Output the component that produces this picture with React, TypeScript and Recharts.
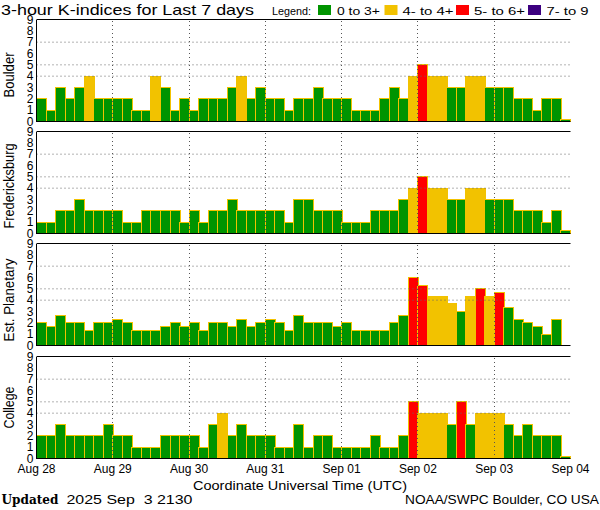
import { BarChart, Bar, Cell, XAxis, YAxis, ReferenceLine } from "recharts";

// 3-hour slots, 8 per day, Aug 28 00 UT .. Sep 03 21 UT
const days = ["Aug 28", "Aug 29", "Aug 30", "Aug 31", "Sep 01", "Sep 02", "Sep 03", "Sep 04"];
const SLOTS_PER_DAY = 8;

const boulder = [
  2, 1, 3, 2, 3, 4, 2, 2,
  2, 2, 1, 1, 4, 3, 1, 2,
  1, 2, 2, 2, 3, 4, 2, 3,
  2, 2, 1, 2, 2, 3, 2, 2,
  2, 1, 1, 1, 2, 3, 2, 4,
  5, 4, 4, 3, 3, 4, 4, 3,
  3, 3, 2, 2, 1, 2, 2, 0.15,
];

const fredericksburg = [
  1, 1, 2, 2, 3, 2, 2, 2,
  2, 1, 1, 2, 2, 2, 2, 1,
  2, 1, 2, 2, 3, 2, 2, 2,
  2, 2, 1, 3, 3, 2, 2, 2,
  1, 1, 1, 2, 2, 2, 3, 4,
  5, 4, 4, 3, 3, 4, 4, 3,
  3, 3, 2, 2, 2, 1, 2, 0.25,
];

const planetary = [
  2, 1.67, 2.67, 2, 2, 1.33, 2, 2,
  2.33, 2, 1.33, 1.33, 1.33, 1.67, 2, 1.67,
  2, 1.33, 2, 2, 1.67, 2.33, 1.67, 2,
  2.33, 2, 1.33, 2.67, 2, 2, 2, 1.67,
  2, 1.33, 1.33, 1.33, 1.33, 2, 2.67, 6,
  5.33, 4.33, 4.33, 3.67, 3, 4.33, 5, 4.33,
  4.67, 3.33, 2.33, 2, 1.67, 1, 2.33, 0,
];

const college = [
  2, 2, 3, 2, 2, 2, 2, 3,
  2, 2, 1, 1, 1, 2, 2, 2,
  2, 1, 3, 4, 2, 3, 2, 2,
  2, 1, 1, 3, 1, 2, 2, 1,
  1, 1, 1, 2, 1, 1, 2, 5,
  4, 4, 4, 3, 5, 3, 4, 4,
  4, 3, 2, 3, 2, 2, 2, 0.2,
];

const kTicks = [0, 1, 2, 3, 4, 5, 6, 7, 8, 9];
const gridLevels = [4, 5, 7];
const legendLabels = ["0 to 3+", "4- to 4+", "5- to 6+", "7- to 9"];

const GREEN = "#009400";
const YELLOW = "#f2c200";
const RED = "#ff0000";
const PURPLE = "#3c0080";
const GRID = "#666666";
const FONT = '"Liberation Sans", Arial, sans-serif';

const kColor = (v: number) =>
  v >= 6.67 ? PURPLE : v >= 4.67 ? RED : v >= 3.67 ? YELLOW : GREEN;

const panels = [
  { name: "Boulder", values: boulder, top: 19, labelY: 75, labelLen: 45 },
  { name: "Fredericksburg", values: fredericksburg, top: 131, labelY: 186, labelLen: 85 },
  { name: "Est. Planetary", values: planetary, top: 243, labelY: 300, labelLen: 83 },
  { name: "College", values: college, top: 356, labelY: 407.5, labelLen: 42 },
];

const PAD = 6;

// day label at the start of its first slot; the final label at the end of the last slot
function DayTick(props: any) {
  const { x, y, payload, lastSlot } = props;
  const slot = payload.value as number;
  const isEnd = slot === lastSlot;
  const label = isEnd ? days[days.length - 1] : days[slot / SLOTS_PER_DAY];
  const tx = isEnd ? x + payload.offset : x - payload.offset;
  return (
    <text x={tx} y={y} dy="0.71em" textAnchor="middle" fontSize={12} fill="#000" fontFamily={FONT}>
      {label}
    </text>
  );
}

function Panel({ values, top, showDays }: { values: number[]; top: number; showDays: boolean }) {
  const data = values.map((k, slot) => ({ slot, k }));
  const lastSlot = data.length - 1;
  const dayStarts = data.filter((d) => d.slot % SLOTS_PER_DAY === 0).map((d) => d.slot);
  const innerStarts = dayStarts.slice(1);
  const axisH = showDays ? 20 : 0;

  return (
    <div style={{ position: "absolute", left: 0, top: top - PAD }}>
      <BarChart
        width={600}
        height={102 + 2 * (PAD + 0.5) + axisH}
        data={data}
        margin={{ top: PAD + 0.5, right: 29.5, bottom: PAD + 0.5, left: 6.5 }}
        barCategoryGap={0}
        barGap={0}
      >
        {gridLevels.map((l) => (
          <ReferenceLine key={"h" + l} y={l} stroke={GRID} strokeDasharray="1 3" />
        ))}
        <Bar
          dataKey="k"
          isAnimationActive={false}
          stroke={YELLOW}
          strokeWidth={1}
          shapeRendering="crispEdges"
        >
          {data.map((d) => (
            <Cell key={d.slot} fill={kColor(d.k)} />
          ))}
        </Bar>
        {innerStarts.map((s) => (
          <ReferenceLine
            key={"v" + s}
            x={s}
            position="start"
            stroke="#555"
            strokeDasharray="1 3"
            shapeRendering="crispEdges"
          />
        ))}
        <ReferenceLine y={9} stroke="#000" />
        <ReferenceLine y={0} stroke="#000" />
        <ReferenceLine x={0} position="start" stroke="#000" shapeRendering="crispEdges" />
        <ReferenceLine
          x={lastSlot}
          position="end"
          stroke="#000"
          strokeDasharray="3 1"
          shapeRendering="crispEdges"
        />
        <XAxis
          dataKey="slot"
          height={0}
          mirror
          axisLine={false}
          tick={false}
          tickLine={{ stroke: YELLOW }}
          tickSize={2}
          interval={0}
        />
        {showDays && (
          <XAxis
            xAxisId="day"
            dataKey="slot"
            ticks={[...dayStarts, lastSlot]}
            interval={0}
            height={axisH}
            axisLine={false}
            tickLine={false}
            tickSize={0}
            tickMargin={5.5}
            tick={<DayTick lastSlot={lastSlot} />}
          />
        )}
        <YAxis
          domain={[0, 9]}
          ticks={kTicks}
          interval={0}
          width={30}
          tickLine={false}
          axisLine={false}
          tickSize={0}
          tickMargin={3}
          tick={{ fontSize: 12, fill: "#000", fontFamily: FONT }}
        />
      </BarChart>
    </div>
  );
}

export default function App() {
  const legendBoxX = [318, 384.5, 456, 528];
  const legendTextX = [337, 402.5, 474, 546.5];
  const legendTextLen = [43, 51, 51, 42];
  const legendColors = [GREEN, YELLOW, RED, PURPLE];

  return (
    <div
      style={{
        position: "absolute",
        left: 0,
        top: 0,
        width: 600,
        height: 510,
        background: "#fff",
        fontFamily: FONT,
      }}
    >
      {panels.map((p, i) => (
        <Panel key={p.name} values={p.values} top={p.top} showDays={i === panels.length - 1} />
      ))}
      <svg
        width={600}
        height={510}
        style={{ position: "absolute", left: 0, top: 0, pointerEvents: "none" }}
        fontFamily={FONT}
      >
        <text x={1} y={15} fontSize={15} textLength={253} lengthAdjust="spacingAndGlyphs">
          3-hour K-indices for Last 7 days
        </text>
        <text x={272} y={14.5} fontSize={10.5} textLength={39} lengthAdjust="spacingAndGlyphs">
          Legend:
        </text>
        {legendLabels.map((l, i) => (
          <g key={l}>
            <rect x={legendBoxX[i]} y={5} width={13} height={10} fill={legendColors[i]} />
            <text
              x={legendTextX[i]}
              y={14.5}
              fontSize={10.5}
              textLength={legendTextLen[i]}
              lengthAdjust="spacingAndGlyphs"
            >
              {l}
            </text>
          </g>
        ))}
        {panels.map((p) => (
          <text
            key={p.name}
            x={0}
            y={0}
            fontSize={14}
            textAnchor="middle"
            textLength={p.labelLen}
            lengthAdjust="spacingAndGlyphs"
            transform={`translate(14, ${p.labelY}) rotate(-90)`}
          >
            {p.name}
          </text>
        ))}
        <text x={193} y={490} fontSize={13.5} textLength={214} lengthAdjust="spacingAndGlyphs">
          Coordinate Universal Time (UTC)
        </text>
        <text
          x={1.5}
          y={503.5}
          fontSize={13}
          fontWeight="bold"
          fontFamily='"DejaVu Serif", "Liberation Serif", serif'
          textLength={57}
          lengthAdjust="spacingAndGlyphs"
        >
          Updated
        </text>
        <text
          x={66.5}
          y={503.5}
          fontSize={13}
          textLength={126}
          lengthAdjust="spacingAndGlyphs"
          style={{ whiteSpace: "pre" }}
        >
          2025 Sep  3 2130
        </text>
        <text x={405} y={503.5} fontSize={13} textLength={194} lengthAdjust="spacingAndGlyphs">
          NOAA/SWPC Boulder, CO USA
        </text>
      </svg>
    </div>
  );
}
